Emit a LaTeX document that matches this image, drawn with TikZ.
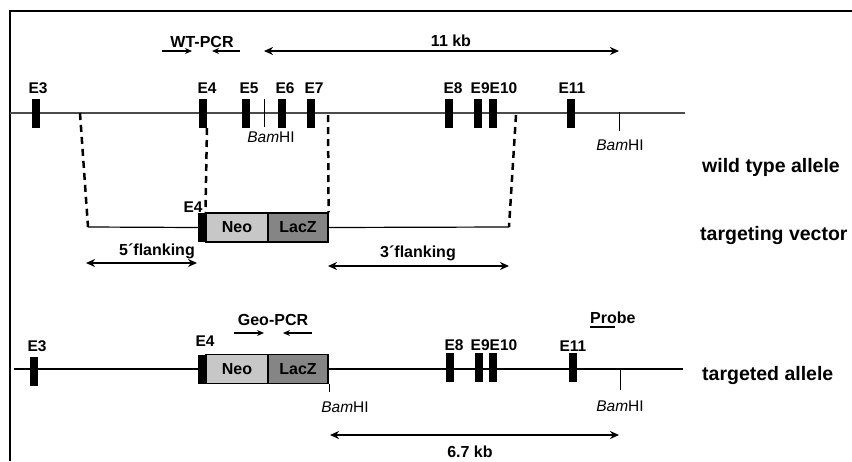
\documentclass[tikz,border=0pt]{standalone}
\usepackage{fontspec}
\setmainfont{Liberation Sans}
\usetikzlibrary{arrows.meta}
\tikzset{
  exon/.style={fill=black, draw=none, minimum width=8pt, minimum height=29pt, inner sep=0pt},
  elab/.style={font=\fontsize{15.5}{17}\selectfont\bfseries, inner sep=0pt},
  lab/.style={font=\fontsize{16}{18}\selectfont\bfseries, inner sep=0pt},
  biglab/.style={font=\fontsize{19.5}{22}\selectfont\bfseries, inner sep=0pt, anchor=west},
  bam/.style={font=\fontsize{15.5}{18}\selectfont, inner sep=0pt},
  cassette/.style={draw=black, line width=1.2pt, minimum height=29pt, inner sep=0pt, font=\fontsize{16}{18}\selectfont\bfseries},
  dashline/.style={line width=2.5pt, dash pattern=on 7pt off 5pt},
  dim/.style={line width=1.7pt, {Stealth[length=9pt,width=8pt]}-{Stealth[length=9pt,width=8pt]}},
  primer/.style={line width=1.2pt, -{Stealth[length=7pt,width=6pt]}},
  tick/.style={line width=1pt}
}
\begin{document}
\begin{tikzpicture}[x=1pt,y=-1pt]
\useasboundingbox (0,0) rectangle (852,461);
\fill[white] (0,0) rectangle (852,461);
% frame
\draw[line width=1.5pt] (10,461) -- (10,11) -- (852,11);

% ---------- wild type allele ----------
\coordinate (wL) at (10,113);
\coordinate (wR) at (685,113);
\draw[line width=1.6pt, black!70] (wL) -- (wR);
\node[exon] (w3) at (36,113.5) {};
\node[exon] (w4) at (203,113.5) {};
\node[exon] (w5) at (246,113.5) {};
\node[exon] (w6) at (282,113.5) {};
\node[exon] (w7) at (311,113.5) {};
\node[exon] (w8) at (449,113.5) {};
\node[exon] (w9) at (478,113.5) {};
\node[exon] (w10) at (493,113.5) {};
\node[exon] (w11) at (571,113.5) {};
\node[elab] (lw3) at (38,88) {E3};
\node[elab] (lw4) at (207,88) {E4};
\node[elab] (lw5) at (249,88) {E5};
\node[elab] (lw6) at (285,88) {E6};
\node[elab] (lw7) at (314,88) {E7};
\node[elab] (lw8) at (453,88) {E8};
\node[elab] (lw910) at (494,88) {E9E10};
\node[elab] (lw11) at (572,88) {E11};
% BamHI sites
\coordinate (b1t) at (264,99);
\coordinate (b1b) at (264,127);
\draw[tick] (b1t) -- (b1b);
\node[bam] (lb1) at (271,137) {\textit{Bam}HI};
\coordinate (b2t) at (619,112);
\coordinate (b2b) at (619,131);
\draw[tick] (b2t) -- (b2b);
\node[bam] (lb2) at (620,145) {\textit{Bam}HI};
% WT-PCR
\node[lab] (wtpcr) at (202,42) {WT-PCR};
\coordinate (p1a) at (162,51); \coordinate (p1b) at (192,51);
\coordinate (p2a) at (240,51); \coordinate (p2b) at (212,51);
\draw[primer] (p1a) -- (p1b);
\draw[primer] (p2a) -- (p2b);
% 11 kb
\coordinate (k1a) at (264,51); \coordinate (k1b) at (619,51);
\draw[dim] (k1a) -- (k1b);
\node[lab] (k11) at (451,41) {11 kb};
\node[biglab] (wtal) at (702,167) {wild type allele};

% ---------- targeting vector ----------
\coordinate (tvL) at (88,227);
\coordinate (tvR) at (509,227);
\node[exon] (t4) at (202,227.5) {};
\node[cassette, fill=black!22, minimum width=62pt] (tneo) at (237,227.5) {Neo};
\node[cassette, fill=black!48, minimum width=60pt] (tlacz) at (298,227.5) {LacZ};
\draw[line width=1.2pt] (tvL) -- (t4.west);
\draw[line width=1.2pt] (tlacz.east) -- (tvR);
\node[elab] (lt4) at (193,207) {E4};
% dashed homology lines
\coordinate (d1) at (80,113);
\coordinate (d2) at (207,128);
\coordinate (d3) at (328,115);
\coordinate (d4) at (516,115);
\draw[dashline] (d1) -- (tvL);
\draw[dashline] (d2) -- (tneo.north west);
\draw[dashline] (d3) -- (tlacz.north east);
\draw[dashline] (d4) -- (tvR);
% flanking arrows
\coordinate (f5a) at (86,263); \coordinate (f5b) at (197,263);
\draw[dim] (f5a) -- (f5b);
\node[lab] (lf5) at (157,251) {5\textasciiacute flanking};
\coordinate (f3a) at (328,266); \coordinate (f3b) at (509,266);
\draw[dim] (f3a) -- (f3b);
\node[lab] (lf3) at (418,253) {3\textasciiacute flanking};
\node[biglab] (tvlab) at (700,235) {targeting vector};

% ---------- targeted allele ----------
\coordinate (aL) at (14,369);
\coordinate (aR) at (683,369);
\node[exon] (a3) at (34,371.5) {};
\node[exon] (a4) at (202,369) {};
\node[cassette, fill=black!22, minimum width=62pt] (aneo) at (237,369) {Neo};
\node[cassette, fill=black!48, minimum width=60pt] (alacz) at (298,369) {LacZ};
\node[exon] (a8) at (450,367.5) {};
\node[exon] (a9) at (479,367.5) {};
\node[exon] (a10) at (493,367.5) {};
\node[exon] (a11) at (573,367.5) {};
\draw[line width=1.2pt] (aL) -- (a4.west);
\draw[line width=1.2pt] (alacz.east) -- (aR);
\node[elab] (la3) at (37,346) {E3};
\node[elab] (la4) at (205,341) {E4};
\node[elab] (la8) at (454,345) {E8};
\node[elab] (la910) at (494,345) {E9E10};
\node[elab] (la11) at (573,346) {E11};
% Geo-PCR
\node[lab] (geo) at (273,320) {Geo-PCR};
\coordinate (g1a) at (234,333); \coordinate (g1b) at (264,333);
\coordinate (g2a) at (312,333); \coordinate (g2b) at (283,333);
\draw[primer] (g1a) -- (g1b);
\draw[primer] (g2a) -- (g2b);
% Probe
\node[lab, anchor=west] (probe) at (590,318) {Probe};
\coordinate (pu1) at (590,327); \coordinate (pu2) at (615,327);
\draw[line width=2.5pt] (pu1) -- (pu2);
% BamHI
\coordinate (b3t) at (329,384); \coordinate (b3b) at (329,392);
\draw[tick] (b3t) -- (b3b);
\node[bam] (lb3) at (345,407) {\textit{Bam}HI};
\coordinate (b4t) at (620,369); \coordinate (b4b) at (620,390);
\draw[tick] (b4t) -- (b4b);
\node[bam] (lb4) at (620,406) {\textit{Bam}HI};
% 6.7 kb
\coordinate (k2a) at (330,435); \coordinate (k2b) at (619,435);
\draw[dim] (k2a) -- (k2b);
\node[lab] (k67) at (470,452) {6.7 kb};
\node[biglab] (talab) at (702,375) {targeted allele};
\end{tikzpicture}
\end{document}
